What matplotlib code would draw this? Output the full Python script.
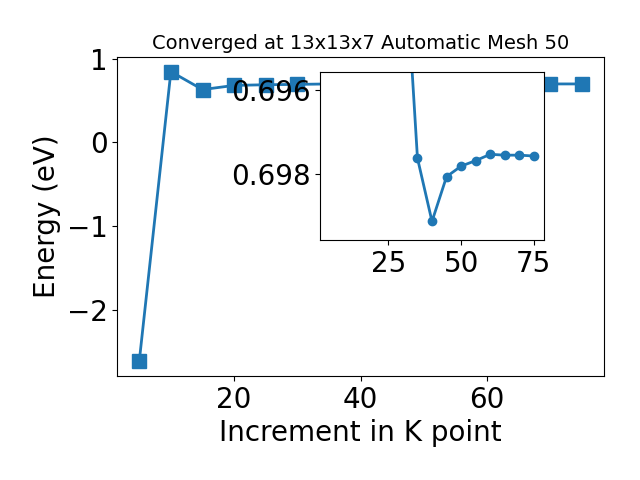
import numpy as np
import matplotlib
matplotlib.use("Agg")
import matplotlib.pyplot as plt

# k-point increments and total energies
kpoints = [5, 10, 15, 20, 25, 30, 35, 40, 45, 50, 55, 60, 65, 70, 75]
energy = [-2.62, 0.845, 0.63, 0.680, 0.688, 0.692, 0.69762, 0.69912,
          0.69806, 0.69781, 0.69768, 0.69753, 0.69755, 0.69755, 0.69757]

fig = plt.figure(figsize=(6.4, 4.8), dpi=100)
ax = fig.add_axes([0.183, 0.217, 0.761, 0.664])
ax.plot(kpoints, energy, marker='s', markersize=10, linewidth=2)
ax.set_xlabel('Increment in K point', fontsize=20)
ax.set_ylabel('Energy (eV)', fontsize=20)
ax.set_title('Converged at 13x13x7 Automatic Mesh 50', fontsize=14)
ax.tick_params(labelsize=20)

# zoomed view of the converged region
ins = fig.add_axes([0.5, 0.5, 0.35, 0.35])
ins.plot(kpoints[2:], energy[2:], marker='o', markersize=6, linewidth=2)
ins.set_xlim(ax.get_xlim())
ins.set_ylim(0.69956, 0.69558)
ins.set_yticks([0.696, 0.698])
ins.set_xticks([25, 50, 75])
ins.tick_params(labelsize=20)

plt.savefig('out.png')
